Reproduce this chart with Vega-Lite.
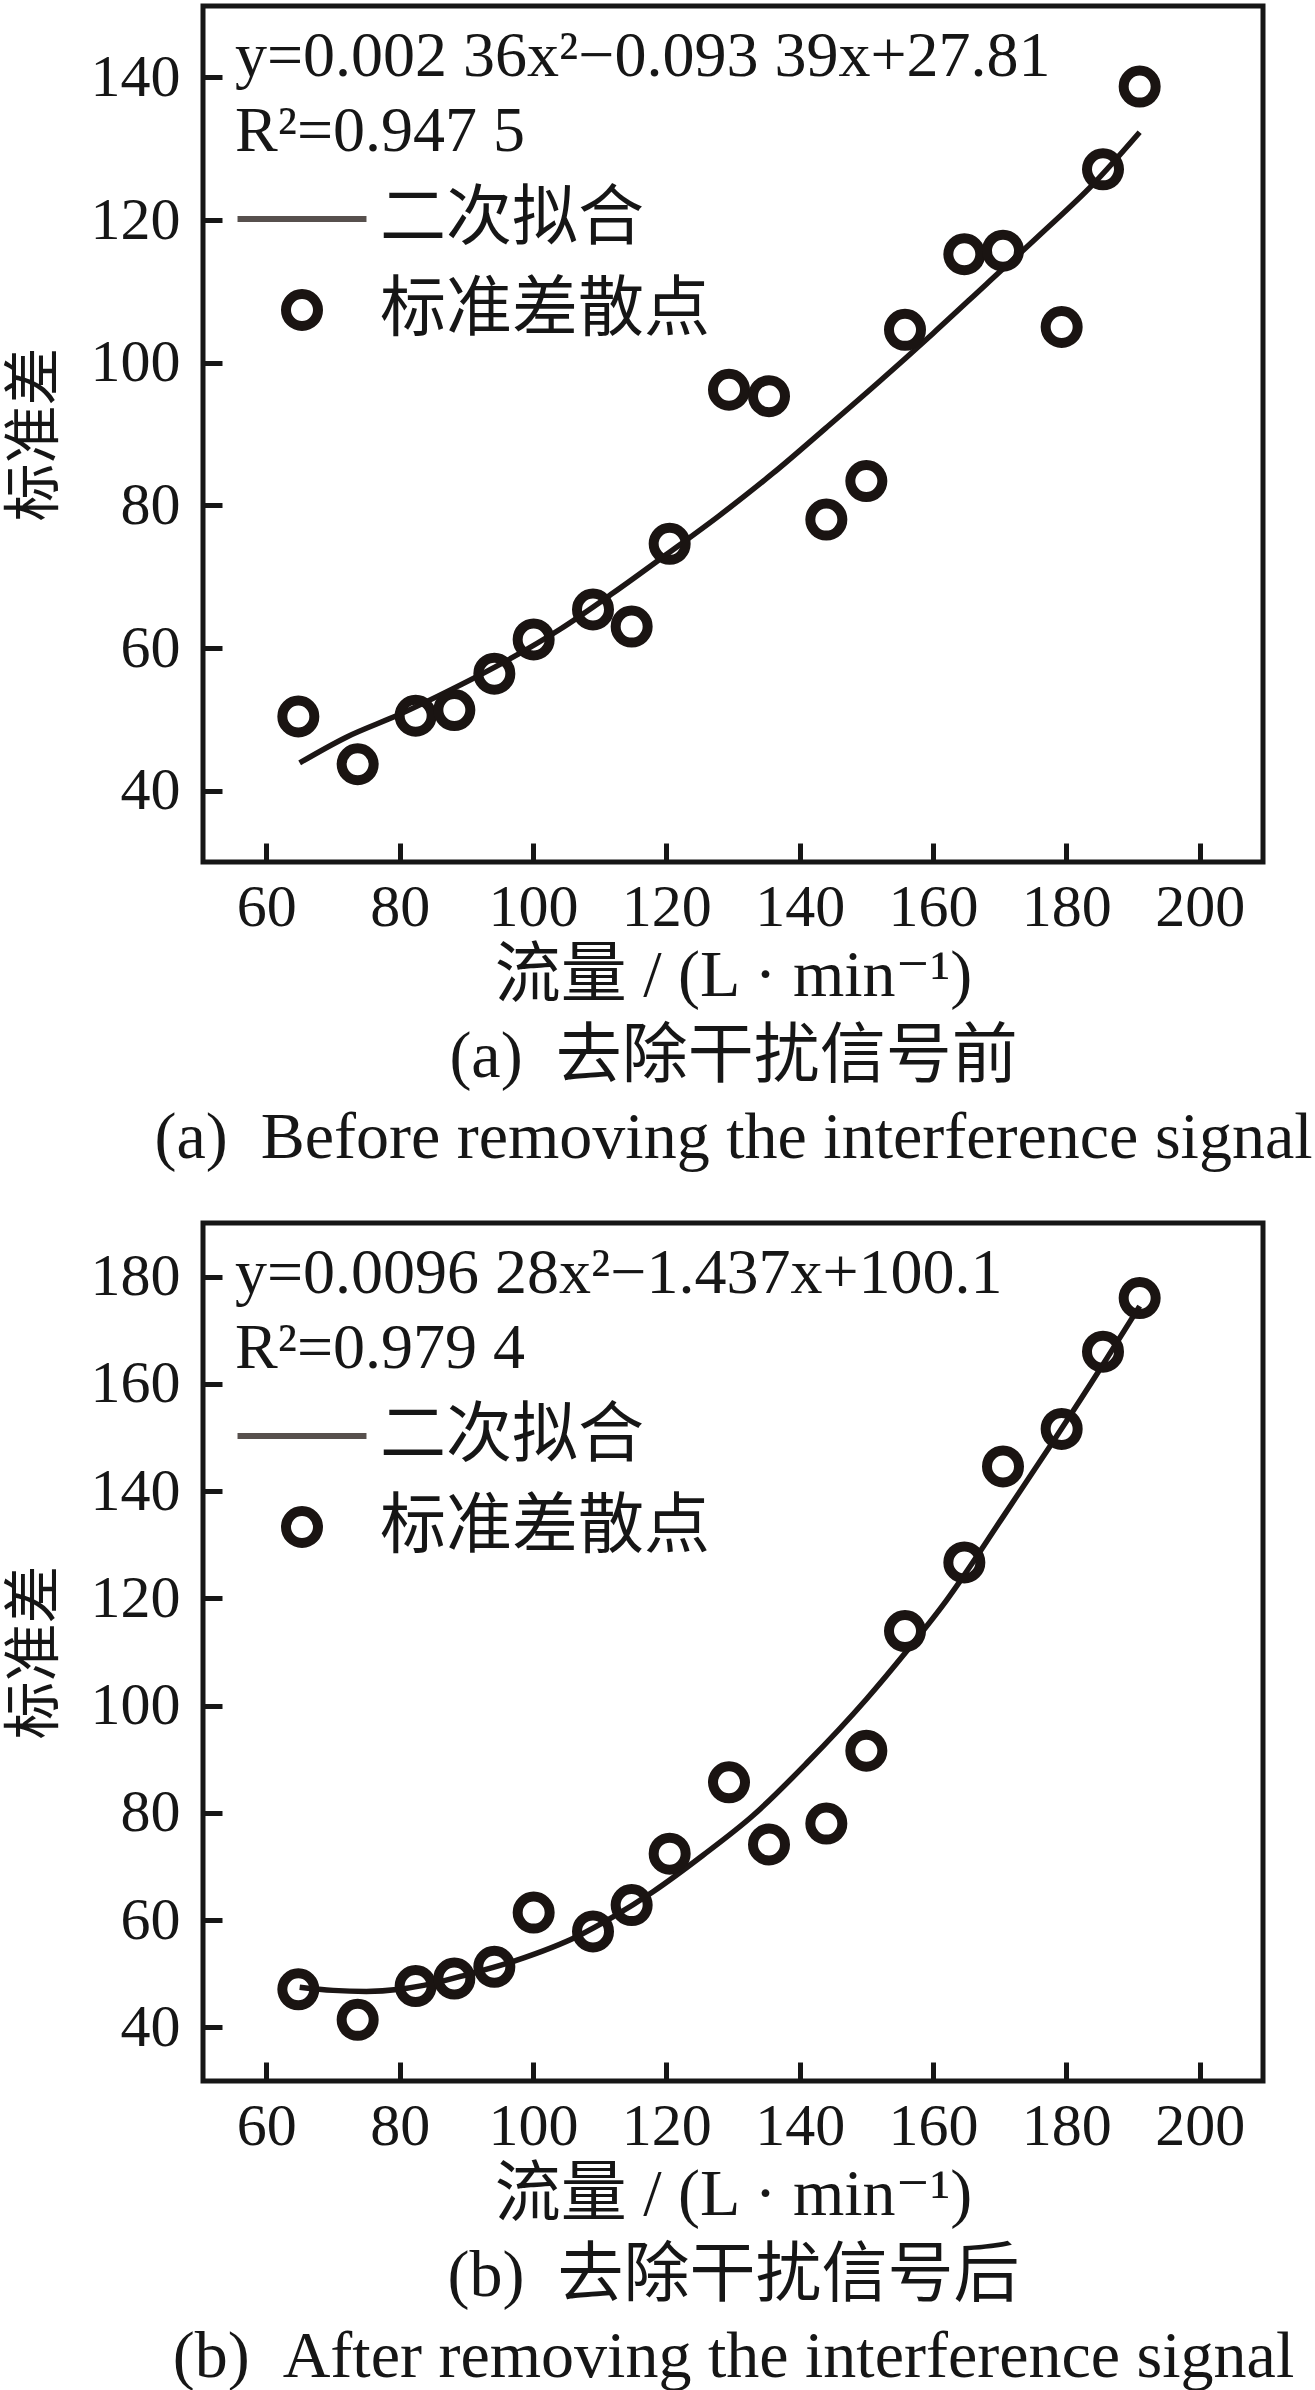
{
  "$schema": "https://vega.github.io/schema/vega-lite/v6.json",
  "background": "white",
  "padding": {"left": 3, "top": 3, "right": 5, "bottom": 0},
  "spacing": 47,
  "config": {
    "font": "'Liberation Serif', 'DejaVu Serif', 'Noto Sans CJK SC'",
    "view": {"stroke": "#161616", "strokeWidth": 5},
    "axis": {
      "domain": false,
      "grid": false,
      "tickSize": -19,
      "tickWidth": 5,
      "tickColor": "#161616",
      "labelFontSize": 60,
      "labelColor": "#161616",
      "titleFontSize": 64,
      "titleFontWeight": "normal",
      "titleColor": "#161616"
    },
    "axisX": {"labelPadding": 35, "titlePadding": 6, "titleLineHeight": 81},
    "axisY": {"labelPadding": 42, "titlePadding": 26, "titleFontSize": 58},
    "legend": {
      "orient": "none",
      "legendX": 32,
      "legendY": 19,
      "padding": 0,
      "titleFontSize": 64,
      "titleFontWeight": "normal",
      "titleColor": "#161616",
      "titleLineHeight": 75,
      "titlePadding": 22,
      "titleLimit": 1200,
      "labelFontSize": 66,
      "labelColor": "#161616",
      "labelLimit": 800,
      "symbolSize": 1024,
      "symbolStrokeWidth": 10,
      "symbolOffset": 34,
      "labelOffset": 45,
      "rowPadding": 22
    }
  },
  "resolve": {"scale": {"shape": "independent"}, "legend": {"shape": "independent"}},
  "datasets": {
    "pointsA": [
      {"flow": 64.8, "sd": 50.4}, {"flow": 73.7, "sd": 43.7}, {"flow": 82.4, "sd": 50.5},
      {"flow": 88.2, "sd": 51.3}, {"flow": 94.2, "sd": 56.4}, {"flow": 100.1, "sd": 61.2},
      {"flow": 109.0, "sd": 65.4}, {"flow": 114.8, "sd": 63.0}, {"flow": 120.5, "sd": 74.6},
      {"flow": 129.4, "sd": 96.2}, {"flow": 135.4, "sd": 95.3}, {"flow": 144.0, "sd": 78.0},
      {"flow": 150.0, "sd": 83.4}, {"flow": 155.8, "sd": 104.6}, {"flow": 164.7, "sd": 115.2},
      {"flow": 170.5, "sd": 115.7}, {"flow": 179.3, "sd": 105.0}, {"flow": 185.5, "sd": 127.1},
      {"flow": 191.0, "sd": 138.7}
    ],
    "curveA": [
      {"flow": 65, "sd": 43.9}, {"flow": 72, "sd": 47.5}, {"flow": 80, "sd": 50.7},
      {"flow": 88, "sd": 54.3}, {"flow": 96, "sd": 58.2}, {"flow": 104, "sd": 62.6},
      {"flow": 112, "sd": 67.7}, {"flow": 120, "sd": 73.1}, {"flow": 128, "sd": 78.6},
      {"flow": 136, "sd": 84.5}, {"flow": 144, "sd": 90.9}, {"flow": 152, "sd": 97.4},
      {"flow": 160, "sd": 104.1}, {"flow": 168, "sd": 111.0}, {"flow": 176, "sd": 117.9},
      {"flow": 184, "sd": 125.0}, {"flow": 191, "sd": 132.3}
    ],
    "pointsB": [
      {"flow": 64.8, "sd": 47.1}, {"flow": 73.7, "sd": 41.4}, {"flow": 82.4, "sd": 47.7},
      {"flow": 88.2, "sd": 49.1}, {"flow": 94.2, "sd": 51.3}, {"flow": 100.1, "sd": 61.4},
      {"flow": 109.0, "sd": 57.9}, {"flow": 114.8, "sd": 62.8}, {"flow": 120.5, "sd": 72.4},
      {"flow": 129.4, "sd": 85.7}, {"flow": 135.4, "sd": 74.1}, {"flow": 144.0, "sd": 78.0},
      {"flow": 150.0, "sd": 91.6}, {"flow": 155.8, "sd": 113.9}, {"flow": 164.7, "sd": 126.7},
      {"flow": 170.5, "sd": 144.6}, {"flow": 179.3, "sd": 151.6}, {"flow": 185.5, "sd": 166.0},
      {"flow": 191.0, "sd": 176.0}
    ],
    "curveB": [
      {"flow": 65, "sd": 47.5}, {"flow": 70, "sd": 46.9}, {"flow": 75, "sd": 46.7},
      {"flow": 80, "sd": 47.1}, {"flow": 85, "sd": 48.2}, {"flow": 90, "sd": 49.8},
      {"flow": 97.5, "sd": 52.5}, {"flow": 106.7, "sd": 57.0}, {"flow": 112, "sd": 60.6},
      {"flow": 118, "sd": 65.3}, {"flow": 125.5, "sd": 72.1}, {"flow": 133, "sd": 79.5},
      {"flow": 141, "sd": 89.2}, {"flow": 150, "sd": 101.2}, {"flow": 156, "sd": 110.1},
      {"flow": 162, "sd": 119.6}, {"flow": 170.5, "sd": 135.2}, {"flow": 178, "sd": 149.2},
      {"flow": 185.5, "sd": 163.6}, {"flow": 191, "sd": 174.5}
    ]
  },
  "vconcat": [
    {
      "width": 1060,
      "height": 856,
      "layer": [
        {
          "data": {"name": "curveA"},
          "mark": {"type": "line", "interpolate": "monotone", "color": "#1c1615", "strokeWidth": 5.5},
          "encoding": {
            "x": {
              "field": "flow", "type": "quantitative",
              "scale": {"domain": [50.5, 209.5], "nice": false, "zero": false},
              "axis": {
                "values": [60, 80, 100, 120, 140, 160, 180, 200],
                "title": ["流量 / (L · min⁻¹)", "(a)\u00a0\u00a0去除干扰信号前", "(a)\u00a0\u00a0Before removing the interference signal"],
                "titleFontSize": 66
              }
            },
            "y": {
              "field": "sd", "type": "quantitative",
              "scale": {"domain": [30, 150], "nice": false, "zero": false},
              "axis": {"values": [40, 60, 80, 100, 120, 140], "title": "标准差"}
            }
          }
        },
        {
          "data": {"name": "pointsA"},
          "mark": {"type": "point", "filled": false, "size": 1024, "strokeWidth": 10, "color": "#1a1412", "opacity": 1},
          "encoding": {
            "x": {"field": "flow", "type": "quantitative"},
            "y": {"field": "sd", "type": "quantitative"},
            "shape": {
              "datum": "标准差散点",
              "scale": {"domain": ["二次拟合", "标准差散点"], "range": ["M-4.03,0L4.03,0", "circle"]},
              "legend": {
                "title": ["y=0.002 36x²−0.093 39x+27.81", "R²=0.947 5"],
                "encoding": {
                  "symbols": {
                    "stroke": {"value": {"expr": "datum.value === '二次拟合' ? '#57504d' : '#1a1412'"}},
                    "strokeWidth": {"value": {"expr": "datum.value === '二次拟合' ? 6 : 10"}}
                  }
                }
              }
            }
          }
        }
      ]
    },
    {
      "width": 1060,
      "height": 858,
      "layer": [
        {
          "data": {"name": "curveB"},
          "mark": {"type": "line", "interpolate": "monotone", "color": "#1c1615", "strokeWidth": 5.5},
          "encoding": {
            "x": {
              "field": "flow", "type": "quantitative",
              "scale": {"domain": [50.5, 209.5], "nice": false, "zero": false},
              "axis": {
                "values": [60, 80, 100, 120, 140, 160, 180, 200],
                "title": ["流量 / (L · min⁻¹)", "(b)\u00a0\u00a0去除干扰信号后", "(b)\u00a0\u00a0After removing the interference signal"],
                "titleFontSize": 66
              }
            },
            "y": {
              "field": "sd", "type": "quantitative",
              "scale": {"domain": [30, 190], "nice": false, "zero": false},
              "axis": {"values": [40, 60, 80, 100, 120, 140, 160, 180], "title": "标准差"}
            }
          }
        },
        {
          "data": {"name": "pointsB"},
          "mark": {"type": "point", "filled": false, "size": 1024, "strokeWidth": 10, "color": "#1a1412", "opacity": 1},
          "encoding": {
            "x": {"field": "flow", "type": "quantitative"},
            "y": {"field": "sd", "type": "quantitative"},
            "shape": {
              "datum": "标准差散点",
              "scale": {"domain": ["二次拟合", "标准差散点"], "range": ["M-4.03,0L4.03,0", "circle"]},
              "legend": {
                "title": ["y=0.0096 28x²−1.437x+100.1", "R²=0.979 4"],
                "encoding": {
                  "symbols": {
                    "stroke": {"value": {"expr": "datum.value === '二次拟合' ? '#57504d' : '#1a1412'"}},
                    "strokeWidth": {"value": {"expr": "datum.value === '二次拟合' ? 6 : 10"}}
                  }
                }
              }
            }
          }
        }
      ]
    }
  ]
}
